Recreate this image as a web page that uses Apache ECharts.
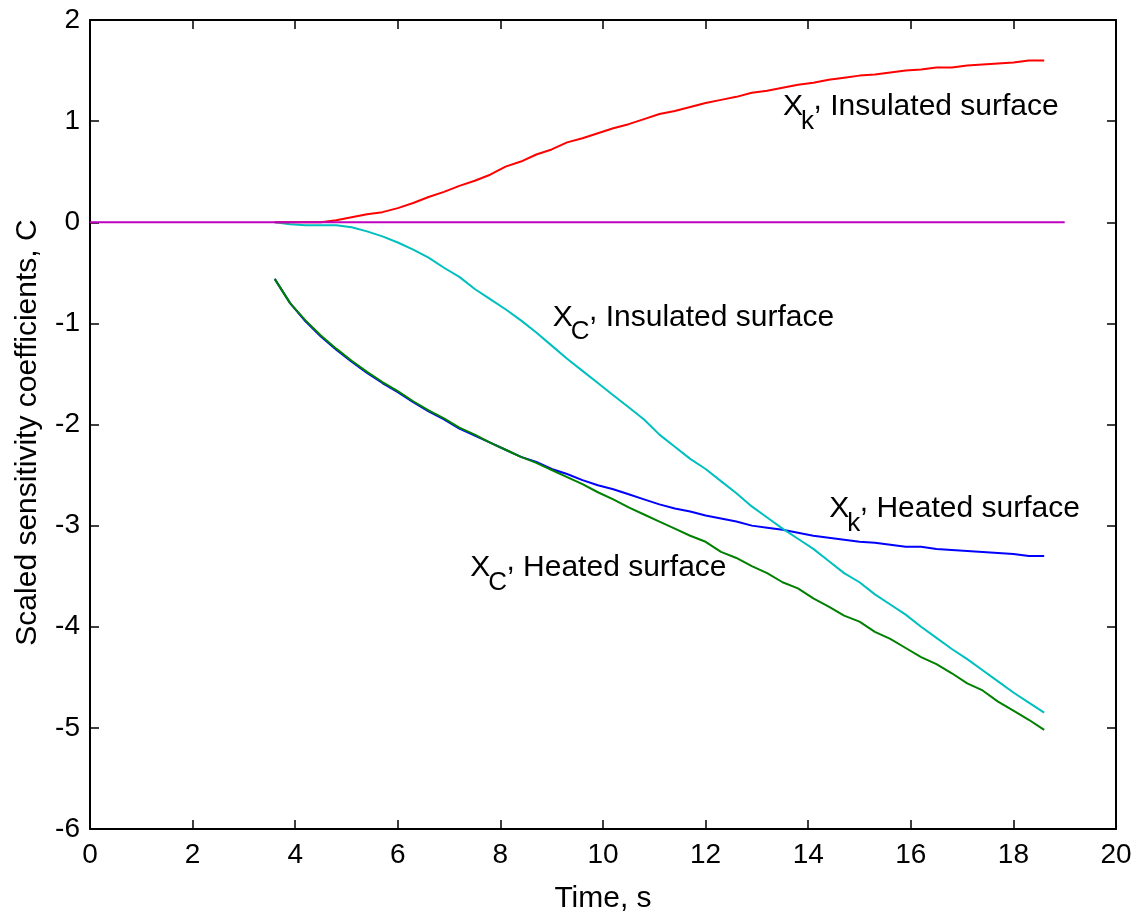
<!DOCTYPE html>
<html>
<head>
<meta charset="utf-8">
<script src="https://cdn.jsdelivr.net/npm/echarts@6/dist/echarts.min.js"></script>
<style>
  html, body { margin: 0; padding: 0; background: #ffffff; }
  #chart { width: 1142px; height: 922px; }
</style>
</head>
<body>
<div id="chart"></div>
<script>
// Sample times, s
const time = [3.6, 3.9, 4.2, 4.5, 4.8, 5.1, 5.4, 5.7, 6.0, 6.3, 6.6, 6.9, 7.2, 7.5, 7.8,
  8.1, 8.4, 8.7, 9.0, 9.3, 9.6, 9.9, 10.2, 10.5, 10.8, 11.1, 11.4, 11.7, 12.0, 12.3,
  12.6, 12.9, 13.2, 13.5, 13.8, 14.1, 14.4, 14.7, 15.0, 15.3, 15.6, 15.9, 16.2, 16.5,
  16.8, 17.1, 17.4, 17.7, 18.0, 18.3, 18.6];

// Scaled sensitivity coefficients, C
const xkInsulated = [0, 0, 0, 0, 0.02, 0.05, 0.08, 0.10, 0.14, 0.19, 0.25, 0.30, 0.36, 0.41, 0.47,
  0.55, 0.60, 0.67, 0.72, 0.79, 0.83, 0.88, 0.93, 0.97, 1.02, 1.07, 1.10, 1.14, 1.18, 1.21,
  1.24, 1.28, 1.30, 1.33, 1.36, 1.38, 1.41, 1.43, 1.45, 1.46, 1.48, 1.50, 1.51, 1.53,
  1.53, 1.55, 1.56, 1.57, 1.58, 1.60, 1.60];

const xcInsulated = [0, -0.02, -0.03, -0.03, -0.03, -0.05, -0.09, -0.14, -0.20, -0.27, -0.35, -0.45, -0.54, -0.66, -0.76,
  -0.86, -0.97, -1.09, -1.22, -1.35, -1.47, -1.59, -1.71, -1.83, -1.95, -2.10, -2.22, -2.34, -2.44, -2.56,
  -2.68, -2.81, -2.92, -3.03, -3.13, -3.23, -3.35, -3.47, -3.56, -3.68, -3.78, -3.88, -4.00, -4.11,
  -4.22, -4.32, -4.43, -4.54, -4.65, -4.75, -4.85];

const xkHeated = [-0.56, -0.80, -0.98, -1.13, -1.26, -1.38, -1.49, -1.59, -1.68, -1.78, -1.87, -1.95, -2.04, -2.11, -2.18,
  -2.25, -2.32, -2.37, -2.44, -2.49, -2.55, -2.60, -2.64, -2.69, -2.74, -2.79, -2.83, -2.86, -2.90, -2.93,
  -2.96, -3.00, -3.02, -3.04, -3.07, -3.10, -3.12, -3.14, -3.16, -3.17, -3.19, -3.21, -3.21, -3.23,
  -3.24, -3.25, -3.26, -3.27, -3.28, -3.30, -3.30];

const xcHeated = [-0.56, -0.80, -0.97, -1.12, -1.25, -1.37, -1.48, -1.58, -1.67, -1.77, -1.86, -1.94, -2.03, -2.10, -2.18,
  -2.25, -2.32, -2.38, -2.45, -2.52, -2.59, -2.67, -2.74, -2.82, -2.89, -2.96, -3.03, -3.10, -3.16, -3.26,
  -3.32, -3.40, -3.47, -3.56, -3.62, -3.72, -3.80, -3.89, -3.95, -4.05, -4.12, -4.21, -4.30, -4.37,
  -4.46, -4.56, -4.63, -4.74, -4.83, -4.92, -5.02];

// Zero reference line
const zeroLineX = [0, 19];
const zeroLineY = [0, 0];

// Curve annotations: subscript, description, anchor (left edge of "X", middle of capitals)
const labelSubs = ['k', 'C', 'k', 'C'];
const labelNames = ['Insulated surface', 'Insulated surface', 'Heated surface', 'Heated surface'];
const labelAnchorX = [13.51, 9.02, 14.41, 7.41];
const labelAnchorY = [1.14, -0.94, -2.83, -3.42];

const FONT = "'Liberation Sans', Arial, Helvetica, sans-serif";
const TICK_SIZE = 28;
const NAME_SIZE = 30;
const LABEL_SIZE = 30;
const SUB_SIZE = 26;

function pairs(xs, ys) {
  return xs.map((x, i) => [x, ys[i]]);
}

const chart = echarts.init(document.getElementById('chart'), null, { renderer: 'canvas' });

const frameAxis = {
  min: 0, max: 20, interval: 2,
  axisLine: { show: true, onZero: false, lineStyle: { color: '#000', width: 2 } },
  axisTick: { show: true, inside: true, length: 9, lineStyle: { color: '#000', width: 1.5 } },
  splitLine: { show: false }
};

function lineSeries(name, xs, ys, color, xi) {
  return {
    name: name,
    type: 'line',
    data: pairs(xs, ys),
    showSymbol: false,
    symbol: 'none',
    smooth: false,
    lineStyle: { color: color, width: 2 },
    itemStyle: { color: color },
    animation: false,
    z: 2 + xi
  };
}

chart.setOption({
  animation: false,
  backgroundColor: '#ffffff',
  textStyle: { fontFamily: FONT },
  grid: { left: 90, right: 26, top: 20, bottom: 93, containLabel: false },
  xAxis: [
    Object.assign({}, frameAxis, {
      type: 'value', position: 'bottom',
      name: 'Time, s', nameLocation: 'middle', nameGap: 55,
      nameTextStyle: { fontFamily: FONT, fontSize: NAME_SIZE, color: '#000' },
      axisLabel: { fontFamily: FONT, fontSize: TICK_SIZE, color: '#000', margin: 12 }
    }),
    Object.assign({}, frameAxis, {
      type: 'value', position: 'top',
      axisLabel: { show: false }
    })
  ],
  yAxis: [
    Object.assign({}, frameAxis, {
      type: 'value', position: 'left', min: -6, max: 2, interval: 1,
      name: 'Scaled sensitivity coefficients, C', nameLocation: 'middle', nameGap: 47,
      nameTextStyle: { fontFamily: FONT, fontSize: NAME_SIZE, color: '#000', padding: [0, 16, 0, 0] },
      axisLabel: { fontFamily: FONT, fontSize: TICK_SIZE, color: '#000', margin: 10 }
    }),
    Object.assign({}, frameAxis, {
      type: 'value', position: 'right', min: -6, max: 2, interval: 1,
      axisLabel: { show: false }
    })
  ],
  series: [
    lineSeries('Xk heated', time, xkHeated, '#0000ff', 0),
    lineSeries('XC heated', time, xcHeated, '#008000', 1),
    lineSeries('XC insulated', time, xcInsulated, '#00bfbf', 2),
    lineSeries('Xk insulated', time, xkInsulated, '#ff0000', 3),
    lineSeries('Zero', zeroLineX, zeroLineY, '#bf00bf', 4)
  ]
});

// Text measurement for composing the subscripted annotations
const measureCtx = document.createElement('canvas').getContext('2d');
function textWidth(str, size) {
  measureCtx.font = size + 'px ' + FONT;
  return measureCtx.measureText(str).width;
}

function annotation(i) {
  const p = chart.convertToPixel({ gridIndex: 0 }, [labelAnchorX[i], labelAnchorY[i]]);
  const wX = textWidth('X', LABEL_SIZE);
  const subX = wX - 2;
  const wSub = textWidth(labelSubs[i], SUB_SIZE);
  const commaX = subX + wSub - 0.5;
  const wComma = textWidth(',', LABEL_SIZE);
  const restX = commaX + wComma;
  const base = { fill: '#000', fontFamily: FONT, verticalAlign: 'middle', align: 'left' };
  return {
    type: 'group',
    x: p[0], y: p[1],
    z: 100,
    children: [
      { type: 'text', x: 0, y: 0, style: Object.assign({}, base, { text: 'X', fontSize: LABEL_SIZE }) },
      { type: 'text', x: subX, y: 15, style: Object.assign({}, base, { text: labelSubs[i], fontSize: SUB_SIZE }) },
      { type: 'text', x: commaX, y: -6, style: Object.assign({}, base, { text: ',', fontSize: LABEL_SIZE }) },
      { type: 'text', x: restX, y: 0, style: Object.assign({}, base, { text: ' ' + labelNames[i], fontSize: LABEL_SIZE }) }
    ]
  };
}

chart.setOption({ graphic: labelSubs.map((_, i) => annotation(i)) });
</script>
</body>
</html>
